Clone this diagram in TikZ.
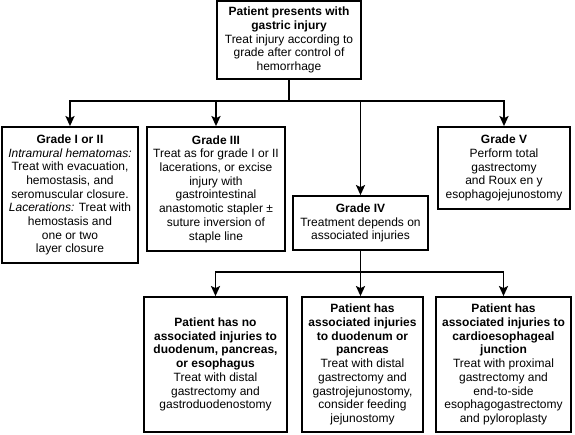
\documentclass[tikz,border=0pt]{standalone}
\usepackage{fontspec}
\setmainfont{Liberation Sans}
\usetikzlibrary{arrows.meta}
\tikzset{
  box/.style={draw, line width=1.8pt, align=center, inner sep=0pt, font=\fontsize{12}{13.7}\selectfont},
  arr/.style={line width=1.8pt, -{Stealth[length=10pt,width=9pt,inset=2pt]}},
  conn/.style={line width=1.8pt}
}
\begin{document}
\begin{tikzpicture}[x=1pt,y=-1pt]
\useasboundingbox (0,0) rectangle (575,434);
\node[box, minimum width=144pt, minimum height=78pt] (top) at (289,40)
  {\textbf{Patient presents with}\\\textbf{gastric injury}\\Treat injury according to\\grade after control of\\hemorrhage};
\node[box, minimum width=136pt, minimum height=136pt] (g12) at (70,195)
  {\textbf{Grade I or II}\\\textit{Intramural hematomas:}\\Treat with evacuation,\\hemostasis, and\\seromuscular closure.\\\textit{Lacerations:} Treat with\\hemostasis and\\one or two\\layer closure};
\node[box, minimum width=138pt, minimum height=124pt] (g3) at (216,189)
  {\textbf{Grade III}\\Treat as for grade I or II\\lacerations, or excise\\injury with\\gastrointestinal\\anastomotic stapler ±\\suture inversion of\\staple line};
\node[box, minimum width=135pt, minimum height=54pt] (g4) at (360.5,223)
  {\textbf{Grade IV}\\Treatment depends on\\associated injuries};
\node[box, minimum width=132pt, minimum height=82pt] (g5) at (504,168)
  {\textbf{Grade V}\\Perform total\\gastrectomy\\and Roux en y\\esophagojejunostomy};
\node[box, minimum width=143pt, minimum height=135pt] (b1) at (215.5,364.5)
  {\textbf{Patient has no}\\\textbf{associated injuries to}\\\textbf{duodenum, pancreas,}\\\textbf{or esophagus}\\Treat with distal\\gastrectomy and\\gastroduodenostomy};
\node[box, minimum width=121pt, minimum height=135pt] (b2) at (362.5,364.5)
  {\textbf{Patient has}\\\textbf{associated injuries}\\\textbf{to duodenum or}\\\textbf{pancreas}\\Treat with distal\\gastrectomy and\\gastrojejunostomy,\\consider feeding\\jejunostomy};
\node[box, minimum width=135pt, minimum height=135pt] (b3) at (503.5,364.5)
  {\textbf{Patient has}\\\textbf{associated injuries to}\\\textbf{cardioesophageal}\\\textbf{junction}\\Treat with proximal\\gastrectomy and\\end-to-side\\esophagogastrectomy\\and pyloroplasty};
\coordinate (j1) at (top.south |- 0,101);
\coordinate (j2) at (g4.south |- 0,272);
\draw[conn] (top.south) -- (j1);
\draw[arr] (j1) -| (g12.north);
\draw[arr] (j1) -| (g3.north);
\draw[arr] (j1) -| (g4.north);
\draw[arr] (j1) -| (g5.north);
\draw[conn] (g4.south) -- (j2);
\draw[arr] (j2) -| (b1.north);
\draw[arr] (j2) -- (b2.north -| j2);
\draw[arr] (j2) -| (b3.north);
\end{tikzpicture}
\end{document}
